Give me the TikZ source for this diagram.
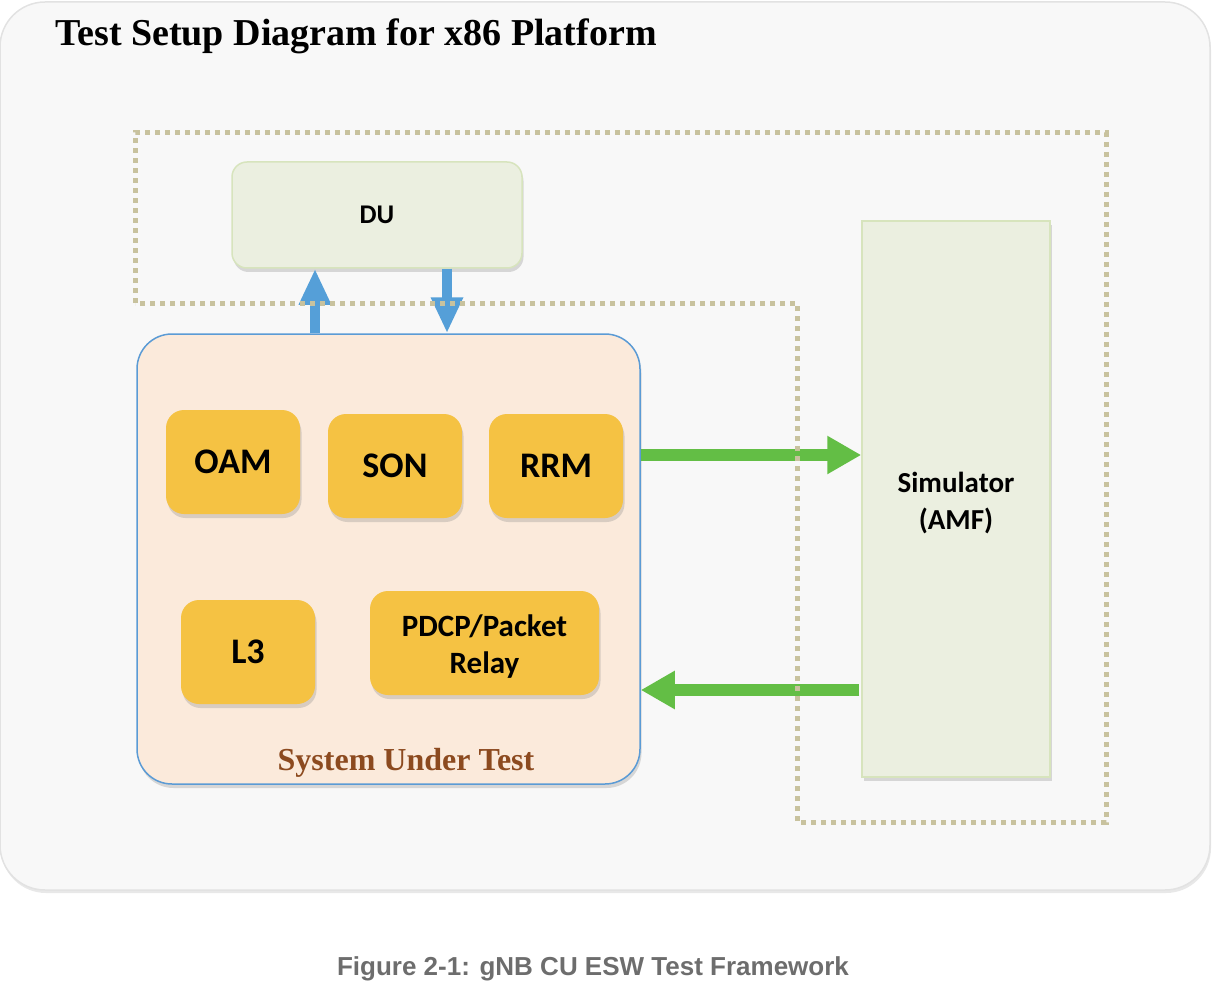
\documentclass[tikz,border=0pt]{standalone}
\usepackage{fontspec}
\setmainfont{Liberation Serif}
\newfontfamily\boxfont{Carlito}
\newfontfamily\capfont{Liberation Sans}
\usetikzlibrary{shadows,arrows.meta,calc}
\definecolor{outerfill}{HTML}{F8F8F8}
\definecolor{outerdraw}{HTML}{E2E2E2}
\definecolor{greenfill}{HTML}{EBEFE0}
\definecolor{greendraw}{HTML}{D7E4BD}
\definecolor{sutfill}{HTML}{FBEADB}
\definecolor{sutdraw}{HTML}{5B9BD5}
\definecolor{modfill}{HTML}{F5C243}
\definecolor{bluearrow}{HTML}{559FD8}
\definecolor{greenarrow}{HTML}{63BE45}
\definecolor{dotcol}{HTML}{C8C29E}
\definecolor{brown}{HTML}{8C4A1F}
\definecolor{capgray}{HTML}{6D6D6D}
\newcommand{\twolines}[2]{\raisebox{-5pt}[\height][\depth]{\begin{tabular}{@{}c@{}}#1\\#2\end{tabular}}}
\tikzset{
  shade/.style={drop shadow={opacity=0.28, shadow xshift=1.5pt, shadow yshift=-4pt}},
  module/.style={rounded corners=18pt, fill=modfill, minimum width=134pt, minimum height=104pt,
    align=center, text=black, font=\boxfont\bfseries\fontsize{36}{40}\selectfont, shade},
  lightbox/.style={fill=greenfill, draw=greendraw, line width=1.5pt, shade,
    font=\boxfont\bfseries, align=center},
  bluearr/.style={draw=bluearrow, line width=10pt, -{Triangle[length=36pt,width=30pt]}},
  greenarr/.style={draw=greenarrow, line width=12pt, -{Triangle[length=34pt,width=36pt]}},
  dotline/.style={draw=dotcol, line width=5pt, dash pattern=on 5pt off 5pt},
}
\begin{document}
\begin{tikzpicture}[x=1pt,y=-1pt]
\useasboundingbox (0,0) rectangle (1212,1000);
% outer panel
\node[draw=outerdraw, line width=1.5pt, fill=outerfill, rounded corners=45pt,
  minimum width=1210pt, minimum height=888pt,
  drop shadow={opacity=0.18, shadow xshift=1pt, shadow yshift=-3pt}] (panel) at (605,446) {};
\node[anchor=base west, font=\bfseries\fontsize{38}{42}\selectfont] (title) at (52,46) {Test Setup Diagram for x86 Platform};
% DU
\node[lightbox, rounded corners=15pt, minimum width=290pt, minimum height=106pt,
  font=\boxfont\bfseries\fontsize{27}{30}\selectfont] (du) at (377,215) {DU};
% Simulator
\node[lightbox, minimum width=188pt, minimum height=556pt,
  font=\boxfont\bfseries\fontsize{29}{37}\selectfont] (sim) at (956,499) {\twolines{Simulator}{(AMF)}};
% SUT
\node[draw=sutdraw, line width=1.5pt, fill=sutfill, rounded corners=35pt,
  minimum width=503pt, minimum height=450pt, shade] (sut) at (388.5,559) {};
\node[module] (oam) at (233,462) {OAM};
\node[module] (son) at (395,466) {SON};
\node[module] (rrm) at (556,466) {RRM};
\node[module] (l3) at (248,652) {L3};
\node[module, minimum width=229pt, font=\boxfont\bfseries\fontsize{31}{37}\selectfont] (pdcp) at (484.5,643) {\twolines{PDCP/Packet}{Relay}};
\node[anchor=base, text=brown, font=\bfseries\fontsize{32}{36}\selectfont] (sutlabel) at (406,770) {System Under Test};
% connectors
\coordinate (ux) at (315,0);
\coordinate (dx) at (447,0);
\coordinate (gy1) at (0,455);
\coordinate (gy2) at (0,690);
\draw[bluearr] (sut.north -| ux) -- (du.south -| ux);
\draw[bluearr] (du.south -| dx) -- (sut.north -| dx);
\draw[greenarr] (sut.east |- gy1) -- (sim.west |- gy1);
\draw[greenarr] ([xshift=-2pt]sim.west |- gy2) -- (sut.east |- gy2);
% dotted boundary
\draw[dotline] (135,303) -- (135,133) -- (1106,133) -- (1106,822) -- (797,822) -- (797,303) -- cycle;
% caption
\node[anchor=base, text=capgray, font=\capfont\bfseries\fontsize{26}{30}\selectfont] (caption) at (593,975) {Figure 2-1: gNB CU ESW Test Framework};
\end{tikzpicture}
\end{document}
